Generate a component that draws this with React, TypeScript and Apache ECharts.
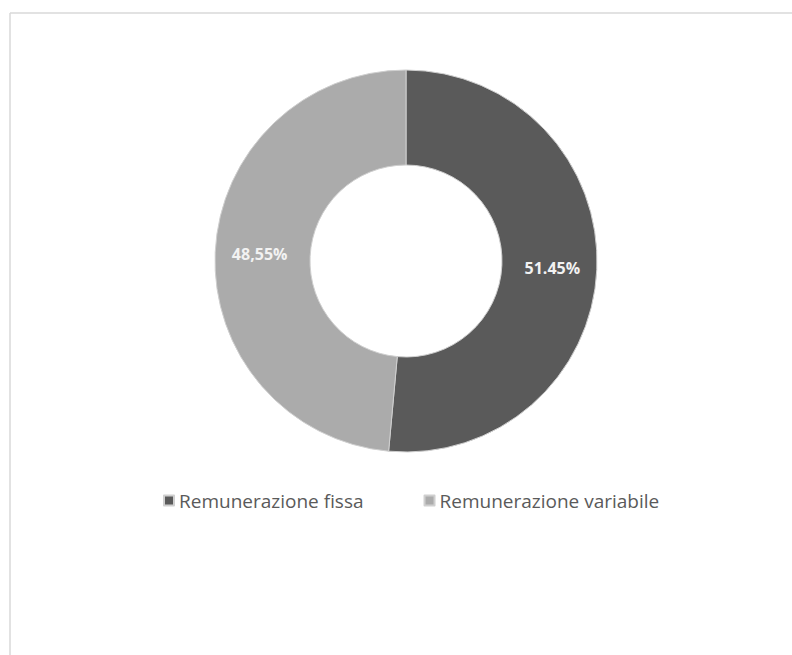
import React, { useEffect, useRef } from "react";
import * as echarts from "echarts";

const categories = ["Remunerazione fissa", "Remunerazione variabile"];
const values = [51.45, 48.55];
const labelTexts = ["51.45%", "48,55%"];
const colors = ["#5a5a5a", "#ababab"];

export default function App() {
  const ref = useRef<HTMLDivElement>(null);
  useEffect(() => {
    if (!ref.current) return;
    const chart = echarts.init(ref.current, null, { renderer: "svg" });
    chart.setOption({
      animation: false,
      backgroundColor: "#ffffff",
      graphic: [
        {
          type: "line",
          shape: { x1: 10, y1: 13, x2: 792, y2: 13 },
          style: { stroke: "#d9d9d9", lineWidth: 1.5 },
        },
        {
          type: "line",
          shape: { x1: 10, y1: 13, x2: 10, y2: 655 },
          style: { stroke: "#d9d9d9", lineWidth: 1.5 },
        },
      ],
      legend: {
        data: categories,
        left: 158,
        top: 486,
        icon: "rect",
        itemWidth: 10,
        itemHeight: 10,
        itemGap: 60,
        textStyle: {
          color: "#5a5a5a",
          fontSize: 19,
          fontFamily: "Open Sans",
        },
      },
      series: [
        {
          type: "pie",
          center: [406, 261],
          radius: [96, 191],
          startAngle: 90,
          clockwise: true,
          avoidLabelOverlap: false,
          itemStyle: { borderColor: "#cfcfcf", borderWidth: 1 },
          label: {
            show: true,
            position: "inside",
            color: "#f2f2f2",
            fontSize: 16,
            fontWeight: "bold",
            fontFamily: "Open Sans",
            formatter: (p: any) => labelTexts[p.dataIndex],
          },
          labelLine: { show: false },
          emphasis: { disabled: true },
          data: categories.map((c, i) => ({
            name: c,
            value: values[i],
            itemStyle: { color: colors[i] },
          })),
        },
      ],
    });
    return () => chart.dispose();
  }, []);
  return (
    <div
      ref={ref}
      style={{ position: "fixed", left: 0, top: 0, width: 792, height: 655 }}
    />
  );
}
